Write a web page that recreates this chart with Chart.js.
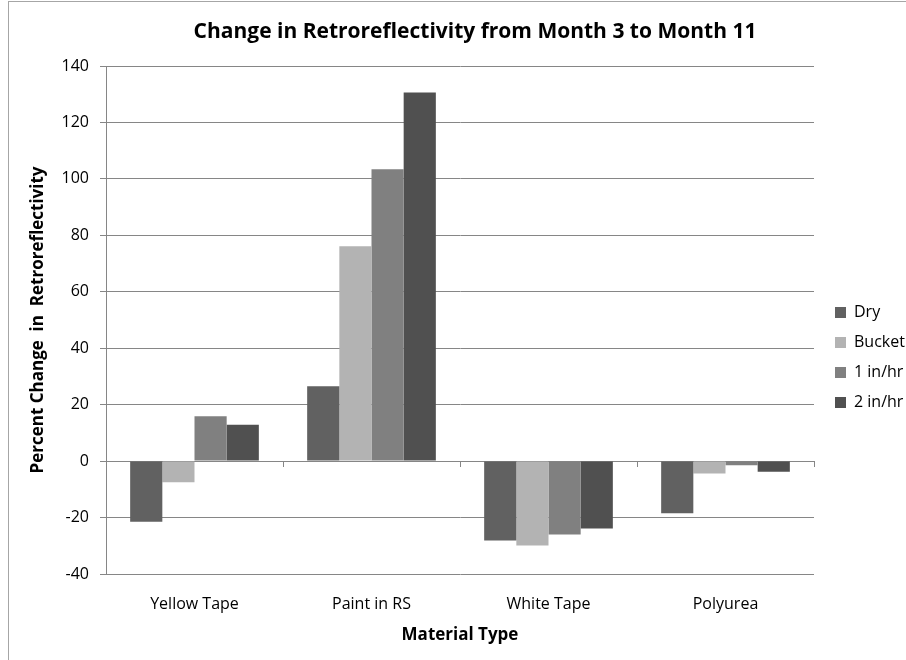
<!DOCTYPE html>
<html>
<head>
<meta charset="utf-8">
<title>Change in Retroreflectivity</title>
<script src="https://cdn.jsdelivr.net/npm/chart.js@4.4.1/dist/chart.umd.min.js"></script>
<style>
  html, body { margin: 0; padding: 0; background: #fff; overflow: hidden; }
  .frame { position: absolute; left: 8px; top: 1px; width: 1000px; height: 1000px;
           border-left: 1px solid #a6a6a6; border-top: 1px solid #a6a6a6; }
  .wrap { position: absolute; left: 0; top: 0; width: 906px; height: 660px; }
</style>
</head>
<body>
<div class="frame"></div>
<div class="wrap"><canvas id="retro_chart"></canvas></div>
<script>
(function () {
    "use strict";

    const categories = ["Yellow Tape", "Paint in RS", "White Tape", "Polyurea"];
    const dry     = [-21.5, 26.5, -28.1, -18.5];
    const bucket  = [-7.5, 76.1, -29.9, -4.4];
    const oneInHr = [15.9, 103.4, -26.0, -1.5];
    const twoInHr = [12.9, 130.6, -23.9, -3.8];
    const yTicks  = [-40, -20, 0, 20, 40, 60, 80, 100, 120, 140];

    const gridGrey = "#868686";
    Chart.defaults.font.family = "'Open Sans', 'Noto Sans', sans-serif";
    Chart.defaults.color = "#000";

    // excel-ish layout tweaks: fixed legend width, shifted title/legend, category tick marks
    const layoutFix = {
        id: "layoutFix",
        beforeLayout(chart) {
            const lg = chart.legend;
            if (lg && !lg._fixed) {
                const fit = lg.fit;
                lg.fit = function () { fit.call(this); this.width = 92; };
                lg._fixed = true;
            }
        },
        afterLayout(chart) {
            const t = chart.titleBlock;
            t.left += 22; t.right += 22;
            const lg = chart.legend;
            lg.left += 7; lg.right += 7;
            lg.top = 200; lg.bottom = 515;
        },
        afterDraw(chart) {
            const xs = chart.scales.x, ys = chart.scales.y;
            const y0 = Math.round(ys.getPixelForValue(0));
            const ctx = chart.ctx;
            ctx.save();
            ctx.strokeStyle = gridGrey;
            ctx.lineWidth = 1;
            ctx.beginPath();
            for (let i = 0; i <= categories.length; i++) {
                const x = Math.round(xs.getPixelForValue(i - 0.5)) + 0.5;
                ctx.moveTo(x, y0);
                ctx.lineTo(x, y0 + 6);
            }
            ctx.stroke();
            ctx.restore();
        }
    };

    const ctx = document.getElementById("retro_chart").getContext("2d");

    new Chart(ctx, {
        type: "bar",
        data: {
            labels: categories,
            datasets: [
                { label: "Dry",      data: dry,     backgroundColor: "#616161" },
                { label: "Bucket",   data: bucket,  backgroundColor: "#b3b3b3" },
                { label: "1 in/hr",  data: oneInHr, backgroundColor: "#808080" },
                { label: "2 in/hr",  data: twoInHr, backgroundColor: "#505050" }
            ]
        },
        options: {
            responsive: true,
            maintainAspectRatio: false,
            animation: false,
            layout: { padding: 0 },
            datasets: {
                bar: { categoryPercentage: 0.727, barPercentage: 1, borderWidth: 0 }
            },
            plugins: {
                title: {
                    display: true,
                    text: "Change in Retroreflectivity from Month 3 to Month 11",
                    font: { size: 21, weight: "bold" },
                    padding: { top: 19.4, bottom: 21.4 }
                },
                legend: {
                    position: "right",
                    labels: {
                        boxWidth: 11,
                        boxHeight: 11,
                        padding: 14,
                        font: { size: 16 }
                    }
                },
                tooltip: { enabled: false }
            },
            scales: {
                x: {
                    grid: { display: false, drawTicks: false, tickLength: 0 },
                    border: { display: false },
                    ticks: { padding: 21, font: { size: 16 } },
                    title: {
                        display: true,
                        text: "Material Type",
                        font: { size: 17, weight: "bold" },
                        padding: { top: 4, bottom: 15 }
                    },
                    afterFit(scale) { scale.height = 86; }
                },
                y: {
                    min: yTicks[0],
                    max: yTicks[yTicks.length - 1],
                    afterBuildTicks(scale) { scale.ticks = yTicks.map(v => ({ value: v })); },
                    grid: { color: gridGrey, tickLength: 6 },
                    border: { color: gridGrey },
                    ticks: { padding: 11, font: { size: 16 } },
                    title: {
                        display: true,
                        text: "Percent Change  in  Retroreflectivity",
                        font: { size: 17, weight: "bold" },
                        padding: { top: 28, bottom: 0 }
                    },
                    afterFit(scale) { scale.width = 106; }
                }
            }
        },
        plugins: [layoutFix]
    });
})();
</script>
</body>
</html>
